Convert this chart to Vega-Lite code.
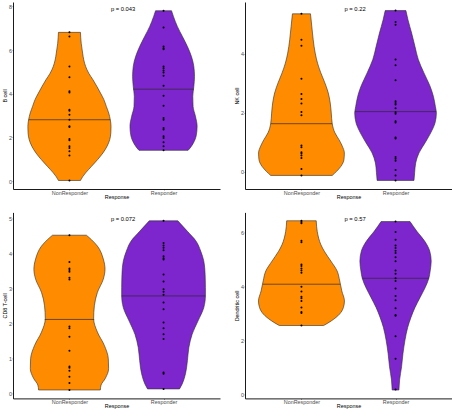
{
"$schema": "https://vega.github.io/schema/vega-lite/v6.json",
"autosize": {"type": "pad"},
"padding": {"left": 2, "top": 2, "right": 0, "bottom": 0},
"background": "white",
"config": {
  "view": {"stroke": null},
  "axis": {"grid": false, "domainColor": "#000", "domainWidth": 0.9, "tickColor": "#333", "tickSize": 1, "tickWidth": 0.5,
    "labelFont": "Liberation Sans", "labelFontSize": 5.4, "labelColor": "#4d4d4d", "labelPadding": 0.5, "labelOverlap": false,
    "titleFont": "Liberation Sans", "titleFontSize": 5.4, "titleFontWeight": "normal", "titleColor": "#000", "titlePadding": 1},
  "axisX": {"labelPadding": 0, "titlePadding": -1.2},
  "text": {"font": "Liberation Sans"}
},
"datasets": {
"outline": [
{"cell":"B cell","Response":"NonResponder","value":0.03,"lo":0.883,"hi":1.117},
{"cell":"B cell","Response":"NonResponder","value":0.20,"lo":0.860,"hi":1.140},
{"cell":"B cell","Response":"NonResponder","value":0.38,"lo":0.828,"hi":1.172},
{"cell":"B cell","Response":"NonResponder","value":0.68,"lo":0.765,"hi":1.235},
{"cell":"B cell","Response":"NonResponder","value":0.99,"lo":0.700,"hi":1.300},
{"cell":"B cell","Response":"NonResponder","value":1.29,"lo":0.644,"hi":1.356},
{"cell":"B cell","Response":"NonResponder","value":1.60,"lo":0.600,"hi":1.400},
{"cell":"B cell","Response":"NonResponder","value":1.90,"lo":0.572,"hi":1.428},
{"cell":"B cell","Response":"NonResponder","value":2.21,"lo":0.560,"hi":1.440},
{"cell":"B cell","Response":"NonResponder","value":2.51,"lo":0.558,"hi":1.442},
{"cell":"B cell","Response":"NonResponder","value":2.81,"lo":0.566,"hi":1.434},
{"cell":"B cell","Response":"NonResponder","value":3.12,"lo":0.583,"hi":1.417},
{"cell":"B cell","Response":"NonResponder","value":3.42,"lo":0.608,"hi":1.392},
{"cell":"B cell","Response":"NonResponder","value":3.73,"lo":0.634,"hi":1.366},
{"cell":"B cell","Response":"NonResponder","value":4.03,"lo":0.670,"hi":1.330},
{"cell":"B cell","Response":"NonResponder","value":4.33,"lo":0.708,"hi":1.292},
{"cell":"B cell","Response":"NonResponder","value":4.64,"lo":0.750,"hi":1.250},
{"cell":"B cell","Response":"NonResponder","value":4.94,"lo":0.795,"hi":1.205},
{"cell":"B cell","Response":"NonResponder","value":5.25,"lo":0.828,"hi":1.172},
{"cell":"B cell","Response":"NonResponder","value":5.55,"lo":0.848,"hi":1.152},
{"cell":"B cell","Response":"NonResponder","value":5.86,"lo":0.860,"hi":1.140},
{"cell":"B cell","Response":"NonResponder","value":6.31,"lo":0.875,"hi":1.125},
{"cell":"B cell","Response":"NonResponder","value":6.81,"lo":0.883,"hi":1.117},
{"cell":"B cell","Response":"Responder","value":1.41,"lo":1.739,"hi":2.261},
{"cell":"B cell","Response":"Responder","value":1.52,"lo":1.717,"hi":2.283},
{"cell":"B cell","Response":"Responder","value":1.75,"lo":1.682,"hi":2.318},
{"cell":"B cell","Response":"Responder","value":2.05,"lo":1.654,"hi":2.346},
{"cell":"B cell","Response":"Responder","value":2.51,"lo":1.643,"hi":2.357},
{"cell":"B cell","Response":"Responder","value":2.97,"lo":1.661,"hi":2.339},
{"cell":"B cell","Response":"Responder","value":3.42,"lo":1.686,"hi":2.314},
{"cell":"B cell","Response":"Responder","value":3.88,"lo":1.689,"hi":2.311},
{"cell":"B cell","Response":"Responder","value":4.33,"lo":1.678,"hi":2.322},
{"cell":"B cell","Response":"Responder","value":4.79,"lo":1.671,"hi":2.329},
{"cell":"B cell","Response":"Responder","value":5.25,"lo":1.678,"hi":2.322},
{"cell":"B cell","Response":"Responder","value":5.70,"lo":1.703,"hi":2.297},
{"cell":"B cell","Response":"Responder","value":6.16,"lo":1.746,"hi":2.254},
{"cell":"B cell","Response":"Responder","value":6.62,"lo":1.799,"hi":2.201},
{"cell":"B cell","Response":"Responder","value":7.07,"lo":1.852,"hi":2.148},
{"cell":"B cell","Response":"Responder","value":7.53,"lo":1.894,"hi":2.106},
{"cell":"B cell","Response":"Responder","value":7.80,"lo":1.915,"hi":2.085},
{"cell":"NK cell","Response":"NonResponder","value":-0.12,"lo":0.673,"hi":1.327},
{"cell":"NK cell","Response":"NonResponder","value":0.02,"lo":0.626,"hi":1.374},
{"cell":"NK cell","Response":"NonResponder","value":0.19,"lo":0.580,"hi":1.420},
{"cell":"NK cell","Response":"NonResponder","value":0.42,"lo":0.548,"hi":1.452},
{"cell":"NK cell","Response":"NonResponder","value":0.64,"lo":0.544,"hi":1.456},
{"cell":"NK cell","Response":"NonResponder","value":0.87,"lo":0.566,"hi":1.434},
{"cell":"NK cell","Response":"NonResponder","value":1.09,"lo":0.601,"hi":1.399},
{"cell":"NK cell","Response":"NonResponder","value":1.32,"lo":0.644,"hi":1.356},
{"cell":"NK cell","Response":"NonResponder","value":1.63,"lo":0.673,"hi":1.327},
{"cell":"NK cell","Response":"NonResponder","value":1.99,"lo":0.683,"hi":1.317},
{"cell":"NK cell","Response":"NonResponder","value":2.33,"lo":0.694,"hi":1.306},
{"cell":"NK cell","Response":"NonResponder","value":2.67,"lo":0.715,"hi":1.285},
{"cell":"NK cell","Response":"NonResponder","value":3.01,"lo":0.751,"hi":1.249},
{"cell":"NK cell","Response":"NonResponder","value":3.35,"lo":0.794,"hi":1.206},
{"cell":"NK cell","Response":"NonResponder","value":3.68,"lo":0.829,"hi":1.171},
{"cell":"NK cell","Response":"NonResponder","value":4.02,"lo":0.854,"hi":1.146},
{"cell":"NK cell","Response":"NonResponder","value":4.47,"lo":0.875,"hi":1.125},
{"cell":"NK cell","Response":"NonResponder","value":4.92,"lo":0.890,"hi":1.110},
{"cell":"NK cell","Response":"NonResponder","value":5.35,"lo":0.904,"hi":1.096},
{"cell":"NK cell","Response":"Responder","value":-0.29,"lo":1.804,"hi":2.196},
{"cell":"NK cell","Response":"Responder","value":-0.03,"lo":1.797,"hi":2.203},
{"cell":"NK cell","Response":"Responder","value":0.30,"lo":1.786,"hi":2.214},
{"cell":"NK cell","Response":"Responder","value":0.64,"lo":1.751,"hi":2.249},
{"cell":"NK cell","Response":"Responder","value":0.98,"lo":1.687,"hi":2.313},
{"cell":"NK cell","Response":"Responder","value":1.32,"lo":1.626,"hi":2.374},
{"cell":"NK cell","Response":"Responder","value":1.66,"lo":1.580,"hi":2.420},
{"cell":"NK cell","Response":"Responder","value":1.99,"lo":1.566,"hi":2.434},
{"cell":"NK cell","Response":"Responder","value":2.22,"lo":1.577,"hi":2.423},
{"cell":"NK cell","Response":"Responder","value":2.56,"lo":1.598,"hi":2.402},
{"cell":"NK cell","Response":"Responder","value":2.90,"lo":1.633,"hi":2.367},
{"cell":"NK cell","Response":"Responder","value":3.35,"lo":1.698,"hi":2.302},
{"cell":"NK cell","Response":"Responder","value":3.80,"lo":1.758,"hi":2.242},
{"cell":"NK cell","Response":"Responder","value":4.25,"lo":1.794,"hi":2.206},
{"cell":"NK cell","Response":"Responder","value":4.70,"lo":1.829,"hi":2.171},
{"cell":"NK cell","Response":"Responder","value":5.15,"lo":1.868,"hi":2.132},
{"cell":"NK cell","Response":"Responder","value":5.46,"lo":1.890,"hi":2.110},
{"cell":"CD8 T-cell","Response":"NonResponder","value":0.10,"lo":0.672,"hi":1.328},
{"cell":"CD8 T-cell","Response":"NonResponder","value":0.24,"lo":0.664,"hi":1.336},
{"cell":"CD8 T-cell","Response":"NonResponder","value":0.43,"lo":0.619,"hi":1.381},
{"cell":"CD8 T-cell","Response":"NonResponder","value":0.71,"lo":0.584,"hi":1.416},
{"cell":"CD8 T-cell","Response":"NonResponder","value":0.99,"lo":0.587,"hi":1.413},
{"cell":"CD8 T-cell","Response":"NonResponder","value":1.37,"lo":0.629,"hi":1.371},
{"cell":"CD8 T-cell","Response":"NonResponder","value":1.75,"lo":0.703,"hi":1.297},
{"cell":"CD8 T-cell","Response":"NonResponder","value":2.13,"lo":0.743,"hi":1.257},
{"cell":"CD8 T-cell","Response":"NonResponder","value":2.50,"lo":0.735,"hi":1.265},
{"cell":"CD8 T-cell","Response":"NonResponder","value":2.88,"lo":0.703,"hi":1.297},
{"cell":"CD8 T-cell","Response":"NonResponder","value":3.26,"lo":0.640,"hi":1.360},
{"cell":"CD8 T-cell","Response":"NonResponder","value":3.54,"lo":0.622,"hi":1.378},
{"cell":"CD8 T-cell","Response":"NonResponder","value":3.83,"lo":0.640,"hi":1.360},
{"cell":"CD8 T-cell","Response":"NonResponder","value":4.20,"lo":0.703,"hi":1.297},
{"cell":"CD8 T-cell","Response":"NonResponder","value":4.38,"lo":0.765,"hi":1.235},
{"cell":"CD8 T-cell","Response":"NonResponder","value":4.51,"lo":0.820,"hi":1.180},
{"cell":"CD8 T-cell","Response":"Responder","value":0.13,"lo":1.830,"hi":2.170},
{"cell":"CD8 T-cell","Response":"Responder","value":0.27,"lo":1.802,"hi":2.198},
{"cell":"CD8 T-cell","Response":"Responder","value":0.56,"lo":1.767,"hi":2.233},
{"cell":"CD8 T-cell","Response":"Responder","value":0.94,"lo":1.746,"hi":2.254},
{"cell":"CD8 T-cell","Response":"Responder","value":1.31,"lo":1.731,"hi":2.269},
{"cell":"CD8 T-cell","Response":"Responder","value":1.69,"lo":1.696,"hi":2.304},
{"cell":"CD8 T-cell","Response":"Responder","value":2.07,"lo":1.633,"hi":2.367},
{"cell":"CD8 T-cell","Response":"Responder","value":2.45,"lo":1.572,"hi":2.428},
{"cell":"CD8 T-cell","Response":"Responder","value":2.78,"lo":1.555,"hi":2.445},
{"cell":"CD8 T-cell","Response":"Responder","value":3.02,"lo":1.555,"hi":2.445},
{"cell":"CD8 T-cell","Response":"Responder","value":3.39,"lo":1.558,"hi":2.442},
{"cell":"CD8 T-cell","Response":"Responder","value":3.77,"lo":1.572,"hi":2.428},
{"cell":"CD8 T-cell","Response":"Responder","value":4.05,"lo":1.604,"hi":2.396},
{"cell":"CD8 T-cell","Response":"Responder","value":4.34,"lo":1.654,"hi":2.346},
{"cell":"CD8 T-cell","Response":"Responder","value":4.62,"lo":1.746,"hi":2.254},
{"cell":"CD8 T-cell","Response":"Responder","value":4.92,"lo":1.848,"hi":2.152},
{"cell":"Dendritic cell","Response":"NonResponder","value":2.55,"lo":0.764,"hi":1.236},
{"cell":"Dendritic cell","Response":"NonResponder","value":2.73,"lo":0.679,"hi":1.321},
{"cell":"Dendritic cell","Response":"NonResponder","value":2.97,"lo":0.596,"hi":1.404},
{"cell":"Dendritic cell","Response":"NonResponder","value":3.22,"lo":0.554,"hi":1.446},
{"cell":"Dendritic cell","Response":"NonResponder","value":3.46,"lo":0.543,"hi":1.457},
{"cell":"Dendritic cell","Response":"NonResponder","value":3.83,"lo":0.571,"hi":1.429},
{"cell":"Dendritic cell","Response":"NonResponder","value":4.20,"lo":0.593,"hi":1.407},
{"cell":"Dendritic cell","Response":"NonResponder","value":4.57,"lo":0.621,"hi":1.379},
{"cell":"Dendritic cell","Response":"NonResponder","value":4.93,"lo":0.686,"hi":1.314},
{"cell":"Dendritic cell","Response":"NonResponder","value":5.30,"lo":0.757,"hi":1.243},
{"cell":"Dendritic cell","Response":"NonResponder","value":5.54,"lo":0.793,"hi":1.207},
{"cell":"Dendritic cell","Response":"NonResponder","value":6.03,"lo":0.832,"hi":1.168},
{"cell":"Dendritic cell","Response":"NonResponder","value":6.43,"lo":0.843,"hi":1.157},
{"cell":"Dendritic cell","Response":"Responder","value":0.16,"lo":1.964,"hi":2.036},
{"cell":"Dendritic cell","Response":"Responder","value":0.53,"lo":1.957,"hi":2.043},
{"cell":"Dendritic cell","Response":"Responder","value":1.02,"lo":1.936,"hi":2.064},
{"cell":"Dendritic cell","Response":"Responder","value":1.51,"lo":1.921,"hi":2.079},
{"cell":"Dendritic cell","Response":"Responder","value":2.00,"lo":1.900,"hi":2.100},
{"cell":"Dendritic cell","Response":"Responder","value":2.48,"lo":1.871,"hi":2.129},
{"cell":"Dendritic cell","Response":"Responder","value":2.85,"lo":1.836,"hi":2.164},
{"cell":"Dendritic cell","Response":"Responder","value":3.22,"lo":1.793,"hi":2.207},
{"cell":"Dendritic cell","Response":"Responder","value":3.59,"lo":1.739,"hi":2.261},
{"cell":"Dendritic cell","Response":"Responder","value":3.95,"lo":1.686,"hi":2.314},
{"cell":"Dendritic cell","Response":"Responder","value":4.30,"lo":1.646,"hi":2.354},
{"cell":"Dendritic cell","Response":"Responder","value":4.57,"lo":1.632,"hi":2.368},
{"cell":"Dendritic cell","Response":"Responder","value":4.93,"lo":1.621,"hi":2.379},
{"cell":"Dendritic cell","Response":"Responder","value":5.30,"lo":1.636,"hi":2.364},
{"cell":"Dendritic cell","Response":"Responder","value":5.67,"lo":1.689,"hi":2.311},
{"cell":"Dendritic cell","Response":"Responder","value":6.03,"lo":1.771,"hi":2.229},
{"cell":"Dendritic cell","Response":"Responder","value":6.40,"lo":1.846,"hi":2.154}
],
"median": [
{"cell":"B cell","Response":"NonResponder","value":2.81,"lo":0.566,"hi":1.434},
{"cell":"B cell","Response":"Responder","value":4.21,"lo":1.678,"hi":2.322},
{"cell":"NK cell","Response":"NonResponder","value":1.63,"lo":0.673,"hi":1.327},
{"cell":"NK cell","Response":"Responder","value":2.04,"lo":1.568,"hi":2.432},
{"cell":"CD8 T-cell","Response":"NonResponder","value":2.11,"lo":0.738,"hi":1.262},
{"cell":"CD8 T-cell","Response":"Responder","value":2.78,"lo":1.555,"hi":2.445},
{"cell":"Dendritic cell","Response":"NonResponder","value":4.08,"lo":0.589,"hi":1.411},
{"cell":"Dendritic cell","Response":"Responder","value":4.30,"lo":1.646,"hi":2.354}
],
"points": [
{"cell":"B cell","Response":"NonResponder","value":6.81},{"cell":"B cell","Response":"NonResponder","value":6.62},{"cell":"B cell","Response":"NonResponder","value":5.25},{"cell":"B cell","Response":"NonResponder","value":4.76},{"cell":"B cell","Response":"NonResponder","value":4.11},{"cell":"B cell","Response":"NonResponder","value":4.06},{"cell":"B cell","Response":"NonResponder","value":3.27},{"cell":"B cell","Response":"NonResponder","value":3.22},{"cell":"B cell","Response":"NonResponder","value":3.04},{"cell":"B cell","Response":"NonResponder","value":2.81},{"cell":"B cell","Response":"NonResponder","value":2.51},{"cell":"B cell","Response":"NonResponder","value":2.48},{"cell":"B cell","Response":"NonResponder","value":1.93},{"cell":"B cell","Response":"NonResponder","value":1.87},{"cell":"B cell","Response":"NonResponder","value":1.60},{"cell":"B cell","Response":"NonResponder","value":1.52},{"cell":"B cell","Response":"NonResponder","value":1.37},{"cell":"B cell","Response":"NonResponder","value":1.17},{"cell":"B cell","Response":"NonResponder","value":0.03},
{"cell":"B cell","Response":"Responder","value":7.80},{"cell":"B cell","Response":"Responder","value":7.03},{"cell":"B cell","Response":"Responder","value":6.16},{"cell":"B cell","Response":"Responder","value":6.08},{"cell":"B cell","Response":"Responder","value":6.04},{"cell":"B cell","Response":"Responder","value":5.25},{"cell":"B cell","Response":"Responder","value":5.17},{"cell":"B cell","Response":"Responder","value":5.06},{"cell":"B cell","Response":"Responder","value":4.97},{"cell":"B cell","Response":"Responder","value":4.82},{"cell":"B cell","Response":"Responder","value":4.37},{"cell":"B cell","Response":"Responder","value":3.91},{"cell":"B cell","Response":"Responder","value":3.45},{"cell":"B cell","Response":"Responder","value":2.89},{"cell":"B cell","Response":"Responder","value":2.81},{"cell":"B cell","Response":"Responder","value":2.43},{"cell":"B cell","Response":"Responder","value":2.36},{"cell":"B cell","Response":"Responder","value":2.05},{"cell":"B cell","Response":"Responder","value":1.98},{"cell":"B cell","Response":"Responder","value":1.78},{"cell":"B cell","Response":"Responder","value":1.60},{"cell":"B cell","Response":"Responder","value":1.41},
{"cell":"NK cell","Response":"NonResponder","value":5.35},{"cell":"NK cell","Response":"NonResponder","value":4.47},{"cell":"NK cell","Response":"NonResponder","value":4.27},{"cell":"NK cell","Response":"NonResponder","value":3.15},{"cell":"NK cell","Response":"NonResponder","value":2.64},{"cell":"NK cell","Response":"NonResponder","value":2.47},{"cell":"NK cell","Response":"NonResponder","value":2.31},{"cell":"NK cell","Response":"NonResponder","value":2.03},{"cell":"NK cell","Response":"NonResponder","value":1.92},{"cell":"NK cell","Response":"NonResponder","value":0.89},{"cell":"NK cell","Response":"NonResponder","value":0.83},{"cell":"NK cell","Response":"NonResponder","value":0.66},{"cell":"NK cell","Response":"NonResponder","value":0.62},{"cell":"NK cell","Response":"NonResponder","value":0.55},{"cell":"NK cell","Response":"NonResponder","value":0.47},{"cell":"NK cell","Response":"NonResponder","value":0.10},{"cell":"NK cell","Response":"NonResponder","value":-0.12},
{"cell":"NK cell","Response":"Responder","value":5.46},{"cell":"NK cell","Response":"Responder","value":5.07},{"cell":"NK cell","Response":"Responder","value":4.98},{"cell":"NK cell","Response":"Responder","value":3.80},{"cell":"NK cell","Response":"Responder","value":3.61},{"cell":"NK cell","Response":"Responder","value":3.10},{"cell":"NK cell","Response":"Responder","value":2.39},{"cell":"NK cell","Response":"Responder","value":2.33},{"cell":"NK cell","Response":"Responder","value":2.28},{"cell":"NK cell","Response":"Responder","value":2.15},{"cell":"NK cell","Response":"Responder","value":2.02},{"cell":"NK cell","Response":"Responder","value":1.97},{"cell":"NK cell","Response":"Responder","value":1.71},{"cell":"NK cell","Response":"Responder","value":1.67},{"cell":"NK cell","Response":"Responder","value":1.16},{"cell":"NK cell","Response":"Responder","value":1.13},{"cell":"NK cell","Response":"Responder","value":0.50},{"cell":"NK cell","Response":"Responder","value":0.44},{"cell":"NK cell","Response":"Responder","value":0.38},{"cell":"NK cell","Response":"Responder","value":0.06},{"cell":"NK cell","Response":"Responder","value":-0.12},{"cell":"NK cell","Response":"Responder","value":-0.29},
{"cell":"CD8 T-cell","Response":"NonResponder","value":4.51},{"cell":"CD8 T-cell","Response":"NonResponder","value":3.75},{"cell":"CD8 T-cell","Response":"NonResponder","value":3.56},{"cell":"CD8 T-cell","Response":"NonResponder","value":3.52},{"cell":"CD8 T-cell","Response":"NonResponder","value":3.47},{"cell":"CD8 T-cell","Response":"NonResponder","value":3.30},{"cell":"CD8 T-cell","Response":"NonResponder","value":3.25},{"cell":"CD8 T-cell","Response":"NonResponder","value":1.91},{"cell":"CD8 T-cell","Response":"NonResponder","value":1.86},{"cell":"CD8 T-cell","Response":"NonResponder","value":1.62},{"cell":"CD8 T-cell","Response":"NonResponder","value":1.22},{"cell":"CD8 T-cell","Response":"NonResponder","value":0.77},{"cell":"CD8 T-cell","Response":"NonResponder","value":0.73},{"cell":"CD8 T-cell","Response":"NonResponder","value":0.65},{"cell":"CD8 T-cell","Response":"NonResponder","value":0.48},{"cell":"CD8 T-cell","Response":"NonResponder","value":0.30},{"cell":"CD8 T-cell","Response":"NonResponder","value":0.10},
{"cell":"CD8 T-cell","Response":"Responder","value":4.92},{"cell":"CD8 T-cell","Response":"Responder","value":4.29},{"cell":"CD8 T-cell","Response":"Responder","value":4.22},{"cell":"CD8 T-cell","Response":"Responder","value":4.15},{"cell":"CD8 T-cell","Response":"Responder","value":4.08},{"cell":"CD8 T-cell","Response":"Responder","value":3.91},{"cell":"CD8 T-cell","Response":"Responder","value":3.85},{"cell":"CD8 T-cell","Response":"Responder","value":3.82},{"cell":"CD8 T-cell","Response":"Responder","value":3.39},{"cell":"CD8 T-cell","Response":"Responder","value":3.19},{"cell":"CD8 T-cell","Response":"Responder","value":2.97},{"cell":"CD8 T-cell","Response":"Responder","value":2.90},{"cell":"CD8 T-cell","Response":"Responder","value":2.81},{"cell":"CD8 T-cell","Response":"Responder","value":2.59},{"cell":"CD8 T-cell","Response":"Responder","value":2.40},{"cell":"CD8 T-cell","Response":"Responder","value":2.02},{"cell":"CD8 T-cell","Response":"Responder","value":1.86},{"cell":"CD8 T-cell","Response":"Responder","value":1.69},{"cell":"CD8 T-cell","Response":"Responder","value":1.55},{"cell":"CD8 T-cell","Response":"Responder","value":0.60},{"cell":"CD8 T-cell","Response":"Responder","value":0.56},{"cell":"CD8 T-cell","Response":"Responder","value":0.13},
{"cell":"Dendritic cell","Response":"NonResponder","value":6.43},{"cell":"Dendritic cell","Response":"NonResponder","value":6.38},{"cell":"Dendritic cell","Response":"NonResponder","value":6.34},{"cell":"Dendritic cell","Response":"NonResponder","value":5.69},{"cell":"Dendritic cell","Response":"NonResponder","value":5.63},{"cell":"Dendritic cell","Response":"NonResponder","value":4.81},{"cell":"Dendritic cell","Response":"NonResponder","value":4.75},{"cell":"Dendritic cell","Response":"NonResponder","value":4.66},{"cell":"Dendritic cell","Response":"NonResponder","value":4.59},{"cell":"Dendritic cell","Response":"NonResponder","value":4.50},{"cell":"Dendritic cell","Response":"NonResponder","value":3.99},{"cell":"Dendritic cell","Response":"NonResponder","value":3.81},{"cell":"Dendritic cell","Response":"NonResponder","value":3.62},{"cell":"Dendritic cell","Response":"NonResponder","value":3.56},{"cell":"Dendritic cell","Response":"NonResponder","value":3.46},{"cell":"Dendritic cell","Response":"NonResponder","value":3.22},{"cell":"Dendritic cell","Response":"NonResponder","value":3.05},{"cell":"Dendritic cell","Response":"NonResponder","value":3.01},{"cell":"Dendritic cell","Response":"NonResponder","value":2.55},
{"cell":"Dendritic cell","Response":"Responder","value":6.40},{"cell":"Dendritic cell","Response":"Responder","value":6.01},{"cell":"Dendritic cell","Response":"Responder","value":5.73},{"cell":"Dendritic cell","Response":"Responder","value":5.51},{"cell":"Dendritic cell","Response":"Responder","value":5.42},{"cell":"Dendritic cell","Response":"Responder","value":5.32},{"cell":"Dendritic cell","Response":"Responder","value":5.24},{"cell":"Dendritic cell","Response":"Responder","value":5.08},{"cell":"Dendritic cell","Response":"Responder","value":4.93},{"cell":"Dendritic cell","Response":"Responder","value":4.59},{"cell":"Dendritic cell","Response":"Responder","value":4.47},{"cell":"Dendritic cell","Response":"Responder","value":4.30},{"cell":"Dendritic cell","Response":"Responder","value":4.20},{"cell":"Dendritic cell","Response":"Responder","value":3.92},{"cell":"Dendritic cell","Response":"Responder","value":3.64},{"cell":"Dendritic cell","Response":"Responder","value":3.49},{"cell":"Dendritic cell","Response":"Responder","value":3.19},{"cell":"Dendritic cell","Response":"Responder","value":2.94},{"cell":"Dendritic cell","Response":"Responder","value":2.91},{"cell":"Dendritic cell","Response":"Responder","value":2.15},{"cell":"Dendritic cell","Response":"Responder","value":1.32},{"cell":"Dendritic cell","Response":"Responder","value":0.18}
],
"pvalues": [
{"cell":"B cell","label":"p = 0.043"},
{"cell":"NK cell","label":"p = 0.22"},
{"cell":"CD8 T-cell","label":"p = 0.072"},
{"cell":"Dendritic cell","label":"p = 0.57"}
]
},
"spacing": 12.4,
"vconcat": [
{"hconcat": [
{"width": 207, "height": 187,
 "resolve": {"scale": {"x": "independent"}, "axis": {"x": "independent"}},
 "layer": [
  {"data": {"name": "outline"}, "transform": [{"filter": "datum.cell === 'B cell'"}],
   "mark": {"type": "area", "orient": "horizontal", "interpolate": "monotone", "stroke": "#2b2b2b", "strokeWidth": 0.6, "opacity": 1},
   "encoding": {
     "y": {"field": "value", "type": "quantitative", "title": "B cell", "scale": {"domain": [-0.36, 8.2], "nice": false, "zero": false}, "axis": {"values": [0, 2, 4, 6, 8]}},
     "x": {"field": "lo", "type": "quantitative", "scale": {"domain": [0.4, 2.6], "nice": false, "zero": false}, "axis": null},
     "x2": {"field": "hi"},
     "color": {"field": "Response", "type": "nominal", "scale": {"domain": ["NonResponder", "Responder"], "range": ["#FF8C00", "#7D26CD"]}, "legend": null}}},
  {"data": {"name": "median"}, "transform": [{"filter": "datum.cell === 'B cell'"}],
   "mark": {"type": "rule", "stroke": "#2b2b2b", "strokeWidth": 0.7},
   "encoding": {
     "y": {"field": "value", "type": "quantitative", "title": "B cell", "axis": {"values": [0, 2, 4, 6, 8]}},
     "x": {"field": "lo", "type": "quantitative", "scale": {"domain": [0.4, 2.6], "nice": false, "zero": false}, "axis": null},
     "x2": {"field": "hi"}}},
  {"data": {"name": "points"}, "transform": [{"filter": "datum.cell === 'B cell'"}],
   "mark": {"type": "circle", "size": 4, "color": "#000", "opacity": 1},
   "encoding": {
     "y": {"field": "value", "type": "quantitative", "title": "B cell", "axis": {"values": [0, 2, 4, 6, 8]}},
     "x": {"field": "Response", "type": "nominal", "title": "Response", "scale": {"type": "point", "padding": 0.6, "domain": ["NonResponder", "Responder"]}, "axis": {"labelAngle": 0}}}},
  {"data": {"name": "pvalues"}, "transform": [{"filter": "datum.cell === 'B cell'"}],
   "mark": {"type": "text", "fontSize": 5.8, "color": "#000", "align": "center", "baseline": "middle"},
   "encoding": {
     "y": {"datum": 7.86, "type": "quantitative", "title": "B cell", "axis": {"values": [0, 2, 4, 6, 8]}},
     "x": {"datum": 1.57, "type": "quantitative", "scale": {"domain": [0.4, 2.6], "nice": false, "zero": false}, "axis": null},
     "text": {"field": "label"}}}
 ]},
{"width": 207, "height": 187,
 "resolve": {"scale": {"x": "independent"}, "axis": {"x": "independent"}},
 "layer": [
  {"data": {"name": "outline"}, "transform": [{"filter": "datum.cell === 'NK cell'"}],
   "mark": {"type": "area", "orient": "horizontal", "interpolate": "monotone", "stroke": "#2b2b2b", "strokeWidth": 0.6, "opacity": 1},
   "encoding": {
     "y": {"field": "value", "type": "quantitative", "title": "NK cell", "scale": {"domain": [-0.58, 5.75], "nice": false, "zero": false}, "axis": {"values": [0, 2, 4]}},
     "x": {"field": "lo", "type": "quantitative", "scale": {"domain": [0.4, 2.6], "nice": false, "zero": false}, "axis": null},
     "x2": {"field": "hi"},
     "color": {"field": "Response", "type": "nominal", "scale": {"domain": ["NonResponder", "Responder"], "range": ["#FF8C00", "#7D26CD"]}, "legend": null}}},
  {"data": {"name": "median"}, "transform": [{"filter": "datum.cell === 'NK cell'"}],
   "mark": {"type": "rule", "stroke": "#2b2b2b", "strokeWidth": 0.7},
   "encoding": {
     "y": {"field": "value", "type": "quantitative", "title": "NK cell", "axis": {"values": [0, 2, 4]}},
     "x": {"field": "lo", "type": "quantitative", "scale": {"domain": [0.4, 2.6], "nice": false, "zero": false}, "axis": null},
     "x2": {"field": "hi"}}},
  {"data": {"name": "points"}, "transform": [{"filter": "datum.cell === 'NK cell'"}],
   "mark": {"type": "circle", "size": 4, "color": "#000", "opacity": 1},
   "encoding": {
     "y": {"field": "value", "type": "quantitative", "title": "NK cell", "axis": {"values": [0, 2, 4]}},
     "x": {"field": "Response", "type": "nominal", "title": "Response", "scale": {"type": "point", "padding": 0.6, "domain": ["NonResponder", "Responder"]}, "axis": {"labelAngle": 0}}}},
  {"data": {"name": "pvalues"}, "transform": [{"filter": "datum.cell === 'NK cell'"}],
   "mark": {"type": "text", "fontSize": 5.8, "color": "#000", "align": "center", "baseline": "middle"},
   "encoding": {
     "y": {"datum": 5.51, "type": "quantitative", "title": "NK cell", "axis": {"values": [0, 2, 4]}},
     "x": {"datum": 1.57, "type": "quantitative", "scale": {"domain": [0.4, 2.6], "nice": false, "zero": false}, "axis": null},
     "text": {"field": "label"}}}
 ]}
], "spacing": 25, "bounds": "flush"},
{"hconcat": [
{"width": 207, "height": 186,
 "resolve": {"scale": {"x": "independent"}, "axis": {"x": "independent"}},
 "layer": [
  {"data": {"name": "outline"}, "transform": [{"filter": "datum.cell === 'CD8 T-cell'"}],
   "mark": {"type": "area", "orient": "horizontal", "interpolate": "monotone", "stroke": "#2b2b2b", "strokeWidth": 0.6, "opacity": 1},
   "encoding": {
     "y": {"field": "value", "type": "quantitative", "title": "CD8 T-cell", "scale": {"domain": [-0.14, 5.16], "nice": false, "zero": false}, "axis": {"values": [0, 1, 2, 3, 4, 5], "tickCount": 6}},
     "x": {"field": "lo", "type": "quantitative", "scale": {"domain": [0.4, 2.6], "nice": false, "zero": false}, "axis": null},
     "x2": {"field": "hi"},
     "color": {"field": "Response", "type": "nominal", "scale": {"domain": ["NonResponder", "Responder"], "range": ["#FF8C00", "#7D26CD"]}, "legend": null}}},
  {"data": {"name": "median"}, "transform": [{"filter": "datum.cell === 'CD8 T-cell'"}],
   "mark": {"type": "rule", "stroke": "#2b2b2b", "strokeWidth": 0.7},
   "encoding": {
     "y": {"field": "value", "type": "quantitative", "title": "CD8 T-cell", "axis": {"values": [0, 1, 2, 3, 4, 5], "tickCount": 6}},
     "x": {"field": "lo", "type": "quantitative", "scale": {"domain": [0.4, 2.6], "nice": false, "zero": false}, "axis": null},
     "x2": {"field": "hi"}}},
  {"data": {"name": "points"}, "transform": [{"filter": "datum.cell === 'CD8 T-cell'"}],
   "mark": {"type": "circle", "size": 4, "color": "#000", "opacity": 1},
   "encoding": {
     "y": {"field": "value", "type": "quantitative", "title": "CD8 T-cell", "axis": {"values": [0, 1, 2, 3, 4, 5], "tickCount": 6}},
     "x": {"field": "Response", "type": "nominal", "title": "Response", "scale": {"type": "point", "padding": 0.6, "domain": ["NonResponder", "Responder"]}, "axis": {"labelAngle": 0}}}},
  {"data": {"name": "pvalues"}, "transform": [{"filter": "datum.cell === 'CD8 T-cell'"}],
   "mark": {"type": "text", "fontSize": 5.8, "color": "#000", "align": "center", "baseline": "middle"},
   "encoding": {
     "y": {"datum": 4.97, "type": "quantitative", "title": "CD8 T-cell", "axis": {"values": [0, 1, 2, 3, 4, 5], "tickCount": 6}},
     "x": {"datum": 1.57, "type": "quantitative", "scale": {"domain": [0.4, 2.6], "nice": false, "zero": false}, "axis": null},
     "text": {"field": "label"}}}
 ]},
{"width": 207, "height": 186,
 "resolve": {"scale": {"x": "independent"}, "axis": {"x": "independent"}},
 "layer": [
  {"data": {"name": "outline"}, "transform": [{"filter": "datum.cell === 'Dendritic cell'"}],
   "mark": {"type": "area", "orient": "horizontal", "interpolate": "monotone", "stroke": "#2b2b2b", "strokeWidth": 0.6, "opacity": 1},
   "encoding": {
     "y": {"field": "value", "type": "quantitative", "title": "Dendritic cell", "scale": {"domain": [-0.15, 6.74], "nice": false, "zero": false}, "axis": {"values": [0, 2, 4, 6]}},
     "x": {"field": "lo", "type": "quantitative", "scale": {"domain": [0.4, 2.6], "nice": false, "zero": false}, "axis": null},
     "x2": {"field": "hi"},
     "color": {"field": "Response", "type": "nominal", "scale": {"domain": ["NonResponder", "Responder"], "range": ["#FF8C00", "#7D26CD"]}, "legend": null}}},
  {"data": {"name": "median"}, "transform": [{"filter": "datum.cell === 'Dendritic cell'"}],
   "mark": {"type": "rule", "stroke": "#2b2b2b", "strokeWidth": 0.7},
   "encoding": {
     "y": {"field": "value", "type": "quantitative", "title": "Dendritic cell", "axis": {"values": [0, 2, 4, 6]}},
     "x": {"field": "lo", "type": "quantitative", "scale": {"domain": [0.4, 2.6], "nice": false, "zero": false}, "axis": null},
     "x2": {"field": "hi"}}},
  {"data": {"name": "points"}, "transform": [{"filter": "datum.cell === 'Dendritic cell'"}],
   "mark": {"type": "circle", "size": 4, "color": "#000", "opacity": 1},
   "encoding": {
     "y": {"field": "value", "type": "quantitative", "title": "Dendritic cell", "axis": {"values": [0, 2, 4, 6]}},
     "x": {"field": "Response", "type": "nominal", "title": "Response", "scale": {"type": "point", "padding": 0.6, "domain": ["NonResponder", "Responder"]}, "axis": {"labelAngle": 0}}}},
  {"data": {"name": "pvalues"}, "transform": [{"filter": "datum.cell === 'Dendritic cell'"}],
   "mark": {"type": "text", "fontSize": 5.8, "color": "#000", "align": "center", "baseline": "middle"},
   "encoding": {
     "y": {"datum": 6.49, "type": "quantitative", "title": "Dendritic cell", "axis": {"values": [0, 2, 4, 6]}},
     "x": {"datum": 1.57, "type": "quantitative", "scale": {"domain": [0.4, 2.6], "nice": false, "zero": false}, "axis": null},
     "text": {"field": "label"}}}
 ]}
], "spacing": 25, "bounds": "flush"}
]
}
